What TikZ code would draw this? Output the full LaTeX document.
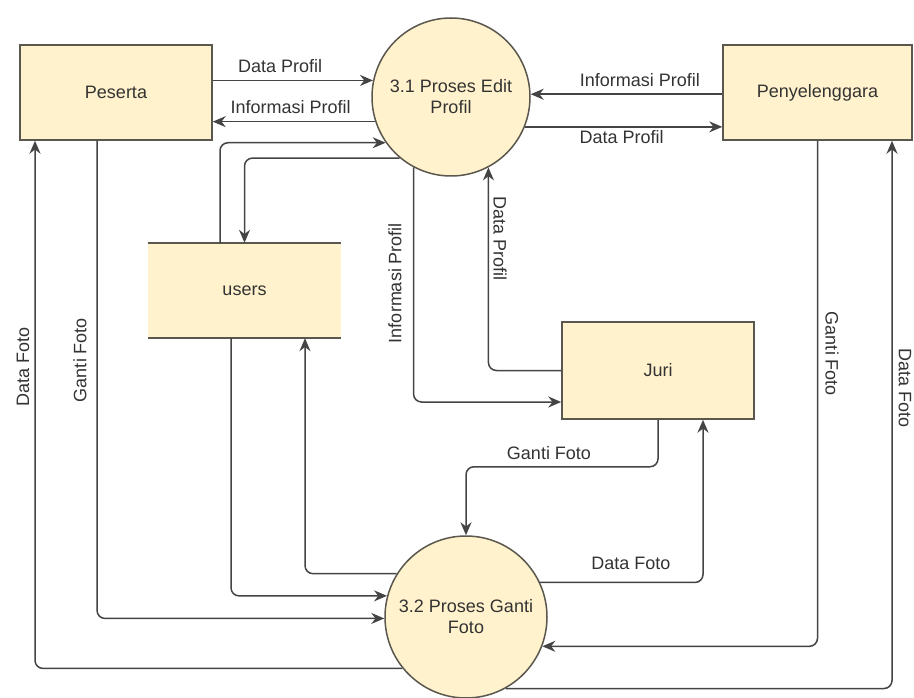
\documentclass[tikz,border=0pt]{standalone}
\usepackage{fontspec}
\setmainfont{Liberation Sans}
\usetikzlibrary{arrows.meta}
\definecolor{boxfill}{HTML}{FFF2CC}
\definecolor{boxline}{HTML}{5A574E}
\definecolor{flowline}{HTML}{444444}
\definecolor{labeltext}{HTML}{333333}
\begin{document}
\begin{tikzpicture}[x=1pt,y=-1pt,
  every node/.style={font=\fontsize{18}{21}\selectfont, text=labeltext},
  entity/.style={draw=boxline, line width=1.5pt, fill=boxfill, rectangle, inner sep=0pt},
  process/.style={draw=boxline, line width=1.5pt, fill=boxfill, circle, inner sep=0pt, align=center},
  flow/.style={draw=flowline, line width=1.5pt, rounded corners=8pt,
    -{Stealth[length=13pt,width=11pt]}},
  lbl/.style={inner sep=1pt}]
\useasboundingbox (0,0) rectangle (914,698);

% external entities
\node[entity, minimum width=192pt, minimum height=95pt] (peserta) at (116,92.5) {Peserta};
\node[entity, minimum width=189pt, minimum height=95pt] (peny) at (817.5,92.5) {Penyelenggara};
\node[entity, minimum width=192pt, minimum height=97pt] (juri) at (658,370.5) {Juri};

% data store: filled band with top and bottom rules only
\fill[boxfill] (148,243) rectangle (341,338);
\node[minimum width=193pt, minimum height=95pt, inner sep=0pt] (users) at (244.5,290.5) {users};
\draw[boxline, line width=1.5pt] (users.north west) -- (users.north east)
  (users.south west) -- (users.south east);

% processes
\node[process, minimum size=158pt] (p1) at (451,97) {3.1 Proses Edit\\Profil};
\node[process, minimum size=162pt] (p2) at (466,617) {3.2 Proses Ganti\\Foto};

% flows around 3.1
\draw[flow] (p1.168.3 -| peserta.east) -- (p1.168.3)
  node[lbl, pos=0.42, above=6pt] {Data Profil};
\draw[flow] (p1.198.4) -- (p1.198.4 -| peserta.east)
  node[lbl, pos=0.52, above=6pt] {Informasi Profil};
\draw[flow] (p1.2.9 -| peny.west) -- (p1.2.9)
  node[lbl, pos=0.43, above=6pt] {Informasi Profil};
\draw[flow] (p1.-22.3) -- (p1.-22.3 -| peny.west)
  node[lbl, pos=0.49, below=2pt] {Data Profil};
\draw[flow] ([xshift=-24.5pt]users.north) |- (p1.215.6);
\draw[flow] (p1.230.5) -| (users.north);
\draw[flow] (p1.242.9) |- ([yshift=-31.5pt]juri.west);
\draw[flow] (juri.west) -| (p1.298.75);
\node[lbl, rotate=90] (l7) at (395,283) {Informasi Profil};
\node[lbl, rotate=-90] (l8) at (500,239) {Data Profil};

% flows around 3.2
\draw[flow] ([xshift=-13.5pt]users.south) |- (p2.165.7);
\draw[flow] (p2.148.8) -| ([xshift=60.5pt]users.south);
\draw[flow] ([xshift=-19pt]peserta.south) |- (p2.181);
\draw[flow] (p2.219) -| ([xshift=-81pt]peserta.south);
\draw[flow] (juri.south) -- ++(0,47) -| (p2.north);
\draw[flow] (p2.25.6) -| ([xshift=45pt]juri.south);
\draw[flow] (peny.south) |- (p2.-21);
\draw[flow] (p2.-61.2) -| ([xshift=74.5pt]peny.south);
\node[lbl] (l13) at (549,453) {Ganti Foto};
\node[lbl] (l14) at (631,563) {Data Foto};
\node[lbl, rotate=90] (l11) at (80,360) {Ganti Foto};
\node[lbl, rotate=90] (l12) at (23,367) {Data Foto};
\node[lbl, rotate=-90] (l15) at (832,354) {Ganti Foto};
\node[lbl, rotate=-90] (l16) at (905,388) {Data Foto};
\end{tikzpicture}
\end{document}
